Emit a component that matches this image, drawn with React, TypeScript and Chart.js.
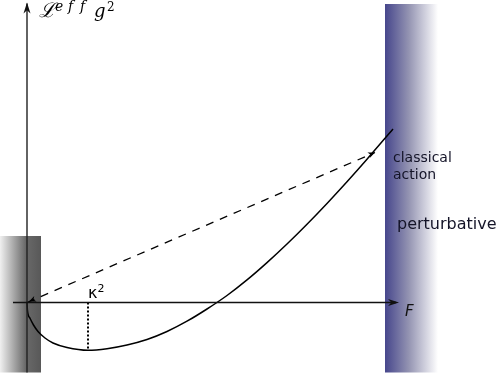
import React, { useEffect, useRef } from "react";
import { Chart, registerables } from "chart.js";

Chart.register(...registerables);

// Effective action curve L_eff g^2 as a function of F
const curveF = [0, 0.004, 0.03, 0.065, 0.11, 0.18, 0.26, 0.4, 0.61, 0.8, 1.0, 1.2, 1.4, 1.6, 1.8, 2.0, 2.2, 2.4, 2.6, 2.8, 3.0, 3.2, 3.4, 3.66];
const curveL = [0, -0.075, -0.158, -0.225, -0.29, -0.355, -0.405, -0.45, -0.478, -0.462, -0.425, -0.37, -0.29, -0.187, -0.065, 0.07, 0.226, 0.399, 0.585, 0.783, 0.991, 1.208, 1.433, 1.735];

// Classical action (dashed straight line)
const classicalF = [0, 3.48];
const classicalL = [0, 1.5];

// kappa^2 marker (minimum of the curve)
const kappaF = 0.61;
const kappaL = -0.478;

// axes extents
const xAxisF = [-0.14, 3.69];
const yAxisL = [-0.7, 2.99];

// shaded regions [F0, F1, L0, L1]
const grayRegion = [-0.27, 0.14, -0.7, 0.665];
const blueRegion = [3.58, 4.11, -0.7, 2.985];

const toPts = (xs: number[], ys: number[]) => xs.map((x, i) => ({ x, y: ys[i] }));

function arrowHead(ctx: CanvasRenderingContext2D, x: number, y: number, angle: number, len: number, half: number, color: string) {
  ctx.save();
  ctx.translate(x, y);
  ctx.rotate(angle);
  ctx.fillStyle = color;
  ctx.beginPath();
  ctx.moveTo(0, 0);
  ctx.lineTo(-len, -half);
  ctx.lineTo(-len * 0.7, 0);
  ctx.lineTo(-len, half);
  ctx.closePath();
  ctx.fill();
  ctx.restore();
}

const decorPlugin = {
  id: "decor",
  beforeDatasetsDraw(chart: any) {
    const { ctx, scales } = chart;
    const xs = scales.x, ys = scales.y;
    {
      const x0 = xs.getPixelForValue(grayRegion[0]);
      const x1 = xs.getPixelForValue(grayRegion[1]);
      const y0 = ys.getPixelForValue(grayRegion[3]);
      const y1 = ys.getPixelForValue(grayRegion[2]);
      const g = ctx.createLinearGradient(x0, 0, x1, 0);
      g.addColorStop(0, "#f0f0f0");
      g.addColorStop(0.62, "#6a6a6a");
      g.addColorStop(1, "#585858");
      ctx.fillStyle = g;
      ctx.fillRect(x0, y0, x1 - x0, y1 - y0);
    }
    {
      const x0 = xs.getPixelForValue(blueRegion[0]);
      const x1 = xs.getPixelForValue(blueRegion[1]);
      const y0 = ys.getPixelForValue(blueRegion[3]);
      const y1 = ys.getPixelForValue(blueRegion[2]);
      const g = ctx.createLinearGradient(x0, 0, x1, 0);
      g.addColorStop(0, "rgb(70,70,140)");
      g.addColorStop(0.45, "rgb(148,148,178)");
      g.addColorStop(1, "rgb(255,255,255)");
      ctx.fillStyle = g;
      ctx.fillRect(x0, y0, x1 - x0, y1 - y0);
    }
  },
  afterDatasetsDraw(chart: any) {
    const { ctx, scales } = chart;
    const xs = scales.x, ys = scales.y;
    const px = (v: number) => xs.getPixelForValue(v);
    const py = (v: number) => ys.getPixelForValue(v);
    arrowHead(ctx, px(xAxisF[1]) + 3, py(0), 0, 11, 3.5, "#111");
    arrowHead(ctx, px(0), py(yAxisL[1]) - 1, -Math.PI / 2, 11, 3.5, "#111");
    const ax0 = px(classicalF[0]), ay0 = py(classicalL[0]);
    const ax1 = px(classicalF[1]), ay1 = py(classicalL[1]);
    const ang = Math.atan2(ay1 - ay0, ax1 - ax0);
    arrowHead(ctx, ax1, ay1, ang, 7, 3, "#000");
    arrowHead(ctx, ax0 + 2, ay0 - 1, ang + Math.PI, 7, 3, "#000");

    ctx.save();
    ctx.textBaseline = "alphabetic";
    ctx.textAlign = "left";
    const kx = px(kappaF);
    ctx.fillStyle = "#000";
    ctx.font = "16px 'DejaVu Sans'";
    ctx.fillText("κ", kx, py(0) - 5);
    ctx.font = "11px 'DejaVu Sans'";
    ctx.fillText("2", kx + 9.5, py(0) - 11);
    ctx.fillStyle = "#111";
    ctx.font = "italic 15px 'DejaVu Sans'";
    ctx.fillText("F", px(xAxisF[1]) + 9, py(0) + 13);
    ctx.fillStyle = "#141428";
    ctx.font = "14px 'DejaVu Sans'";
    ctx.fillText("classical", 393, 162);
    ctx.fillText("action", 393, 179);
    ctx.font = "16px 'DejaVu Sans'";
    ctx.fillText("perturbative", 397, 229);
    ctx.fillStyle = "#000";
    ctx.font = "italic 20px 'DejaVu Serif'";
    ctx.fillText("ℒ", 39, 17);
    ctx.font = "italic 14px 'DejaVu Serif'";
    ctx.fillText("e", 55, 11);
    ctx.fillText("f", 68, 11);
    ctx.fillText("f", 80, 11);
    ctx.font = "italic 18px 'DejaVu Serif'";
    ctx.fillText("g", 94, 17);
    ctx.font = "12px 'DejaVu Serif'";
    ctx.fillText("2", 107, 11);
    ctx.restore();
  },
};

export default function App() {
  const ref = useRef<HTMLCanvasElement | null>(null);
  useEffect(() => {
    if (!ref.current) return;
    const line = (data: any[], extra: any = {}) => ({
      data,
      showLine: true,
      borderColor: "#000",
      borderWidth: 1.5,
      pointRadius: 0,
      fill: false,
      ...extra,
    });
    const chart = new Chart(ref.current, {
      type: "scatter",
      data: {
        datasets: [
          line(toPts(xAxisF, [0, 0]), { borderColor: "#111", borderWidth: 1.6 }),
          line(toPts([0, 0], yAxisL), { borderColor: "#222", borderWidth: 1.4 }),
          line(toPts([kappaF, kappaF], [0, kappaL]), { borderWidth: 2, borderDash: [2, 2] }),
          line(toPts(classicalF, classicalL), { borderWidth: 1.3, borderDash: [8, 7] }),
          line(toPts(curveF, curveL), { borderWidth: 1.5, cubicInterpolationMode: "monotone" }),
        ],
      },
      options: {
        animation: false,
        responsive: false,
        devicePixelRatio: 1,
        layout: { padding: 0 },
        plugins: { legend: { display: false }, tooltip: { enabled: false } },
        scales: {
          x: { type: "linear", min: -0.27, max: 4.71, display: false },
          y: { type: "linear", min: -0.715, max: 3.025, display: false },
        },
      },
      plugins: [decorPlugin],
    });
    return () => chart.destroy();
  }, []);
  return (
    <div style={{ position: "absolute", left: 0, top: 0, width: 498, height: 374, background: "#fff" }}>
      <canvas ref={ref} width={498} height={374} style={{ display: "block" }} />
    </div>
  );
}
